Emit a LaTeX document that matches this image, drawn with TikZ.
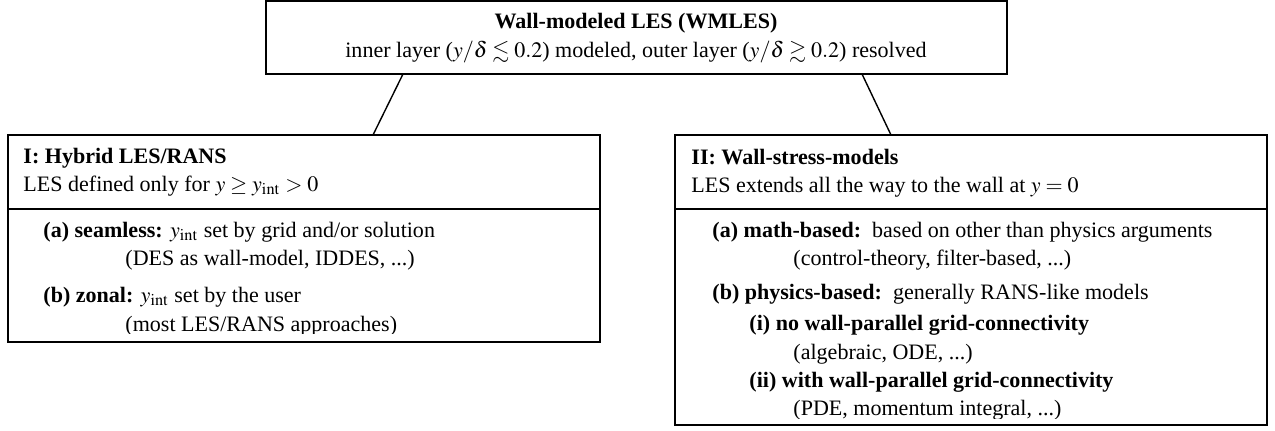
\documentclass[tikz,border=0pt]{standalone}
\usepackage{amssymb}
\usepackage{mathptmx}
\usepackage{fontspec}
\setmainfont{Liberation Serif}
\usetikzlibrary{fit}
\begin{document}
\begin{tikzpicture}[x=0.015cm,y=-0.015cm,
  box/.style={draw, line width=1pt, inner sep=0pt},
  divider/.style={line width=0.8pt},
  conn/.style={line width=0.6pt},
  txt/.style={anchor=base west, inner sep=0pt, font=\fontsize{9.4}{11}\selectfont},
  ctxt/.style={anchor=base, inner sep=0pt, font=\fontsize{9.4}{11}\selectfont}]
\useasboundingbox (0,0) rectangle (1275,430);
% top box
\node[box, fit={(266,1)(1007,74)}] (top) {};
\node[ctxt] (toptitle) at (636,28) {\textbf{Wall-modeled LES (WMLES)}};
\node[ctxt] (topsub) at (636,57) {inner layer ($y/\delta \lesssim 0.2$) modeled, outer layer ($y/\delta \gtrsim 0.2$) resolved};
% left box
\node[box, fit={(8,135)(600,342)}] (L) {};
\coordinate (Ldl) at (8,209);
\coordinate (Ldr) at (600,209);
\draw[divider] (Ldl) -- (Ldr);
\node[txt] (Lt) at (23,163) {\textbf{I: Hybrid LES/RANS}};
\node[txt] (Ls) at (23,191) {LES defined only for $y \geq y_{\mathrm{int}} > 0$};
\node[txt] (La) at (43,237) {\textbf{(a) seamless:} $y_{\mathrm{int}}$ set by grid and/or solution};
\node[txt] (Lax) at (125,265) {(DES as wall-model, IDDES, ...)};
\node[txt] (Lb) at (43,302) {\textbf{(b) zonal:} $y_{\mathrm{int}}$ set by the user};
\begin{scope}
\clip (8,135) rectangle (600,333);
\node[txt] (Lbx) at (125,331) {(most LES/RANS approaches)};
\end{scope}
% right box
\node[box, fit={(675,135)(1267,425)}] (R) {};
\coordinate (Rdl) at (675,209);
\coordinate (Rdr) at (1267,209);
\draw[divider] (Rdl) -- (Rdr);
\node[txt] (Rt) at (691,164) {\textbf{II: Wall-stress-models}};
\node[txt] (Rs) at (691,192) {LES extends all the way to the wall at $y = 0$};
\node[txt] (Ra) at (712,237) {\textbf{(a) math-based:}\ \ based on other than physics arguments};
\node[txt] (Rax) at (793,265) {(control-theory, filter-based, ...)};
\node[txt] (Rb) at (712,299) {\textbf{(b) physics-based:}\ \ generally RANS-like models};
\node[txt] (Rbi) at (749,330) {\textbf{(i) no wall-parallel grid-connectivity}};
\node[txt] (Rbix) at (793,359) {(algebraic, ODE, ...)};
\node[txt] (Rbii) at (749,387) {\textbf{(ii) with wall-parallel grid-connectivity}};
\begin{scope}
\clip (675,135) rectangle (1267,418);
\node[txt] (Rbiix) at (793,415) {(PDE, momentum integral, ...)};
\end{scope}
% connectors
\coordinate (t1) at (403,74);
\coordinate (l1) at (373,135);
\coordinate (t2) at (862,74);
\coordinate (r1) at (891,135);
\draw[conn] (t1) -- (l1);
\draw[conn] (t2) -- (r1);
\end{tikzpicture}
\end{document}
